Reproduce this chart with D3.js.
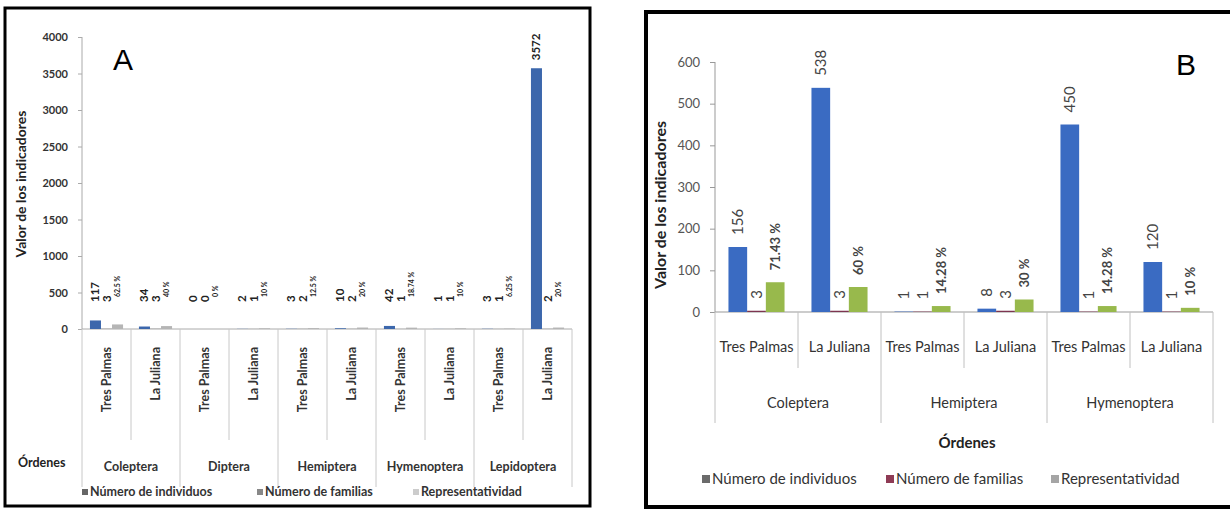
<!DOCTYPE html>
<html>
<head>
<meta charset="utf-8">
<script src="https://cdn.jsdelivr.net/npm/d3@7"></script>
<style>
body { margin: 0; background: #fff; }
svg { display: block; }
text { font-family: Lato, "Open Sans", sans-serif; }
</style>
</head>
<body>
<svg id="chart" width="1230" height="510"></svg>
<script>
// series + categories
var seriesNames = ["Número de individuos", "Número de familias", "Representatividad"];
var sitios = ["Tres Palmas", "La Juliana"];

// panel A
var ordenesA = ["Coleptera", "Diptera", "Hemiptera", "Hymenoptera", "Lepidoptera"];
var individuosA = [117, 34, 0, 2, 3, 10, 42, 1, 3, 3572];
var familiasA = [3, 3, 0, 1, 2, 2, 1, 1, 1, 2];
var represA = [62.5, 40, 0, 10, 12.5, 20, 18.74, 10, 6.25, 20];
var ticksA = [0, 500, 1000, 1500, 2000, 2500, 3000, 3500, 4000];

// panel B
var ordenesB = ["Coleptera", "Hemiptera", "Hymenoptera"];
var individuosB = [156, 538, 1, 8, 450, 120];
var familiasB = [3, 3, 1, 3, 1, 1];
var represB = [71.43, 60, 14.28, 30, 14.28, 10];
var ticksB = [0, 100, 200, 300, 400, 500, 600];

var svg = d3.select("#chart");

function drawPanel(p) {
    var g = svg.append("g");
    var cats = [];
    p.ordenes.forEach(function(o) { sitios.forEach(function(s) { cats.push(o + "|" + s); }); });

    var x = d3.scaleBand().domain(cats).range([p.left, p.right]);
    var xg = d3.scaleBand().domain(p.ordenes).range([p.left, p.right]);
    var xs = d3.scaleBand().domain([0, 1, 2]).range([0, x.bandwidth()]).paddingOuter(0.72);
    var y = d3.scaleLinear().domain([0, p.ymax]).range([p.bottom, p.top]);

    var rows = cats.map(function(c, i) {
        return { cat: c, sitio: c.split("|")[1], vals: [p.ind[i], p.fam[i], p.rep[i]] };
    });

    // y axis
    var ax = g.append("g")
        .attr("transform", "translate(" + p.left + ",0)")
        .call(d3.axisLeft(y).tickValues(p.ticks).tickSize(p.tickSize).tickPadding(p.tickPad).tickFormat(d3.format("d")));
    ax.select(".domain").attr("stroke", p.axisColor).attr("d", "M0," + y(p.ymax) + "V" + y(0));
    ax.selectAll(".tick line").attr("stroke", p.axisColor);
    ax.selectAll(".tick text")
        .attr("fill", p.tickColor)
        .style("font-size", p.tickFont + "px")
        .style("font-weight", p.tickWeight)
        .style("font-family", "Lato, sans-serif");

    // baseline
    g.append("line")
        .attr("x1", p.left).attr("x2", p.right)
        .attr("y1", y(0)).attr("y2", y(0))
        .attr("stroke", p.axisColor);

    // category separators
    for (var i = 0; i <= cats.length; i++) {
        var xx = p.left + i * x.step();
        var long = (i % 2 === 0);
        g.append("line")
            .attr("x1", xx).attr("x2", xx)
            .attr("y1", y(0)).attr("y2", long ? p.groupLineEnd : p.subLineEnd)
            .attr("stroke", p.sepColor);
    }

    // bars
    var grp = g.selectAll(".cat").data(rows).enter().append("g")
        .attr("transform", function(d) { return "translate(" + x(d.cat) + ",0)"; });

    grp.selectAll("rect").data(function(d) { return d.vals; }).enter().append("rect")
        .attr("x", function(d, j) { return xs(j); })
        .attr("width", xs.bandwidth())
        .attr("y", function(d) { return y(d); })
        .attr("height", function(d) { return y(0) - y(d); })
        .attr("fill", function(d, j) { return p.colors[j]; });

    // data labels
    grp.selectAll("text.lab").data(function(d) { return d.vals; }).enter().append("text")
        .attr("class", "lab")
        .attr("transform", function(d, j) {
            var ly = p.labelY(y, d, j);
            return "translate(" + (xs(j) + xs.bandwidth() / 2) + "," + ly + ") rotate(-90)";
        })
        .attr("dy", "0.35em")
        .attr("fill", p.labelColor)
        .style("font-size", function(d, j) { return (j === 2 ? p.pctFont : p.numFont) + "px"; })
        .style("font-weight", function(d, j) { return j === 2 ? p.pctWeight : p.numWeight; })
        .text(function(d, j) { return j === 2 ? d + " %" : d; });

    // sitio labels
    if (p.rotateSub) {
        grp.append("text")
            .attr("transform", "translate(" + (x.bandwidth() / 2) + "," + p.subY + ") rotate(-90)")
            .attr("dy", "0.35em")
            .attr("text-anchor", "end")
            .attr("fill", "#333")
            .style("font-size", p.subFont + "px")
            .style("font-weight", "bold")
            .text(function(d) { return d.sitio; });
    } else {
        grp.append("text")
            .attr("x", x.bandwidth() / 2)
            .attr("y", p.subY)
            .attr("text-anchor", "middle")
            .attr("fill", "#333")
            .style("font-size", p.subFont + "px")
            .text(function(d) { return d.sitio; });
    }

    // orden labels
    g.selectAll(".ord").data(p.ordenes).enter().append("text")
        .attr("x", function(d) { return xg(d) + xg.bandwidth() / 2; })
        .attr("y", p.groupY)
        .attr("text-anchor", "middle")
        .attr("fill", "#333")
        .style("font-size", p.groupFont + "px")
        .style("font-weight", p.groupWeight)
        .text(function(d) { return d; });

    // y title
    g.append("text")
        .attr("transform", "translate(" + p.yTitleX + "," + p.yTitleY + ") rotate(-90)")
        .attr("text-anchor", "middle")
        .attr("fill", "#222")
        .style("font-size", p.yTitleFont + "px")
        .style("font-weight", "bold")
        .text("Valor de los indicadores");

    // Órdenes
    g.append("text")
        .attr("x", p.ordX).attr("y", p.ordY)
        .attr("text-anchor", p.ordAnchor)
        .attr("fill", "#222")
        .style("font-size", p.ordFont + "px")
        .style("font-weight", "bold")
        .text("Órdenes");

    // legend
    var lg = g.selectAll(".leg").data(seriesNames).enter().append("g")
        .attr("transform", function(d, j) { return "translate(" + p.legX[j] + "," + p.legY + ")"; });
    lg.append("rect")
        .attr("x", 0).attr("y", -p.legSq / 2)
        .attr("width", p.legSq).attr("height", p.legSq)
        .attr("fill", function(d, j) { return p.legColors[j]; });
    lg.append("text")
        .attr("x", p.legSq + 2).attr("dy", "0.35em")
        .attr("fill", "#333")
        .style("font-size", p.legFont + "px")
        .style("font-weight", p.legWeight)
        .text(function(d) { return d; });

    // panel letter
    g.append("text")
        .attr("x", p.letterX).attr("y", p.letterY)
        .attr("fill", "#000")
        .style("font-size", "30px")
        .style("font-family", "Liberation Sans, Arial, sans-serif")
        .text(p.letter);

    // frame
    g.append("rect")
        .attr("x", p.frame[0]).attr("y", p.frame[1])
        .attr("width", p.frame[2]).attr("height", p.frame[3])
        .attr("fill", "none").attr("stroke", "#000").attr("stroke-width", p.frameW);
}

drawPanel({
    ordenes: ordenesA, ind: individuosA, fam: familiasA, rep: represA, ticks: ticksA, ymax: 4000,
    left: 82, right: 572, top: 37, bottom: 329,
    tickSize: 4, tickPad: 10, tickFont: 11, tickWeight: "bold", tickColor: "#333", axisColor: "#aaa",
    sepColor: "#c8c8c8", groupLineEnd: 487, subLineEnd: 440,
    colors: ["#3c67ac", "#777777", "#b5b5b5"],
    labelY: function(y, v, j) { return Math.min(y(v) - 8, y(0) - (j === 2 ? 32 : 27)); },
    labelColor: "#222", numFont: 11.5, numWeight: "bold", pctFont: 7, pctWeight: "bold",
    rotateSub: true, subY: 347, subFont: 12.5,
    groupY: 471, groupFont: 12.5, groupWeight: "bold",
    yTitleX: 26, yTitleY: 184, yTitleFont: 14,
    ordX: 18, ordY: 467, ordAnchor: "start", ordFont: 12.5,
    legX: [82, 257, 413], legY: 492, legSq: 6, legFont: 12.5, legWeight: "bold",
    legColors: ["#666", "#888", "#ccc"],
    letter: "A", letterX: 113, letterY: 70,
    frame: [5, 8, 585, 498], frameW: 3
});

drawPanel({
    ordenes: ordenesB, ind: individuosB, fam: familiasB, rep: represB, ticks: ticksB, ymax: 600,
    left: 715, right: 1213, top: 62, bottom: 312,
    tickSize: 5, tickPad: 10, tickFont: 13, tickWeight: "normal", tickColor: "#555", axisColor: "#999",
    sepColor: "#c0c0c0", groupLineEnd: 423, subLineEnd: 368,
    colors: ["#3a6bc2", "#7d3550", "#98b94c"],
    labelY: function(y, v) { return y(v) - 12; },
    labelColor: "#444", numFont: 15, numWeight: "normal", pctFont: 13, pctWeight: "bold",
    rotateSub: false, subY: 352, subFont: 14.5,
    groupY: 408, groupFont: 14.5, groupWeight: "normal",
    yTitleX: 666, yTitleY: 205, yTitleFont: 16,
    ordX: 967, ordY: 448, ordAnchor: "middle", ordFont: 15,
    legX: [702, 886, 1051], legY: 479, legSq: 8, legFont: 15, legWeight: "normal",
    legColors: ["#6b6b6b", "#8e3b55", "#a5a5a5"],
    letter: "B", letterX: 1176, letterY: 75,
    frame: [646, 12, 600, 495], frameW: 4
});
</script>
</body>
</html>
